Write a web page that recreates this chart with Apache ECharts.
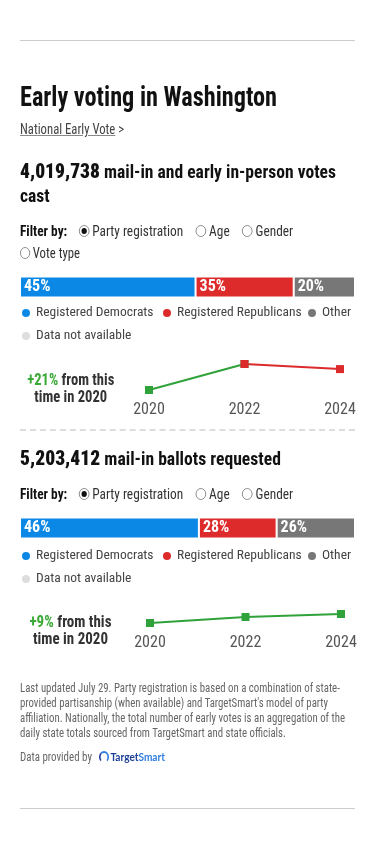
<!DOCTYPE html>
<html>
<head>
<meta charset="utf-8">
<script src="https://cdn.jsdelivr.net/npm/echarts@6/dist/echarts.min.js"></script>
<style>
  html, body { margin: 0; padding: 0; background: #fff; }
  body {
    width: 375px; height: 849px; position: relative; overflow: hidden;
    font-family: "Roboto Condensed", "Liberation Sans Narrow", "DejaVu Sans Condensed", "Roboto", sans-serif;
    color: #222;
  }
  #chart { position: absolute; left: 0; top: 0; width: 375px; height: 849px; }
  .t { position: absolute; left: 20px; white-space: nowrap; transform-origin: left center; }
  .rule { position: absolute; left: 20px; width: 335px; height: 0; border-top: 1px solid #ccc; }
  .dash { position: absolute; left: 20px; width: 335px; height: 0; border-top: 2px dashed #ddd; }
  .title { top: 82px; font-size: 27px; font-weight: bold; line-height: 30px; color: #111; }
  .link { top: 120px; font-size: 15px; line-height: 18px; color: #444; }
  .link u { text-decoration-color: #888; }
  .head { font-size: 19px; font-weight: bold; line-height: 24px; color: #111; }
  .head b { font-size: 21px; }
  .filter { font-size: 15px; line-height: 20px; color: #333; }
  .filter strong { color: #111; margin-right: 13px; }
  .radio { display: inline-block; width: 10px; height: 10px; border: 1px solid #888; border-radius: 50%;
    vertical-align: -1px; margin: 0 3px 0 0; position: relative; box-sizing: content-box; }
  .radio.on::after { content: ""; position: absolute; left: 2px; top: 2px; width: 6px; height: 6px; border-radius: 50%; background: #111; }
  .opt { margin-right: 14px; }
  .change { position: absolute; white-space: nowrap; text-align: center; font-size: 17px; font-weight: bold;
    line-height: 17px; color: #333; transform-origin: center center; }
  .change span { color: #3aa935; }
  .note { top: 680px; font-size: 13px; line-height: 15px; color: #666; }
  .src { top: 749px; font-size: 13px; line-height: 16px; color: #666; }
  .logo { font-family: "Lato", "Inter", sans-serif; font-weight: bold; font-size: 12px; margin-left: 5px; }
  .logo .a { color: #1d3f9a; }
  .logo .b { color: #2f7de1; }
  .logo i { display: inline-block; width: 8px; height: 8px; border: 2px solid #2f7de1; border-radius: 50%;
    vertical-align: -2px; margin-right: 2px; box-sizing: content-box; border-left-color: #1d3f9a; border-bottom-color: transparent; }
</style>
</head>
<body>
<div id="chart"></div>

<div class="rule" style="top:40px"></div>
<div class="t title" data-fit="257">Early voting in Washington</div>
<div class="t link" data-fit="104"><u>National Early Vote</u> &gt;</div>

<div class="t head" style="top:159px" data-fit="316"><b>4,019,738</b> mail-in and early in-person votes<br>cast</div>
<div class="t filter" style="top:221px" data-fit="273"><strong>Filter by:</strong><span class="opt"><span class="radio on"></span>Party registration</span><span class="opt"><span class="radio"></span>Age</span><span><span class="radio"></span>Gender</span></div>
<div class="t filter" style="top:243px" data-fit="60"><span class="radio"></span>Vote type</div>
<div class="change" style="top:371px" data-fit="87" data-center="71"><span>+21%</span> from this<br>time in 2020</div>
<div class="dash" style="top:429px"></div>

<div class="t head" style="top:446px" data-fit="261"><b>5,203,412</b> mail-in ballots requested</div>
<div class="t filter" style="top:484px" data-fit="273"><strong>Filter by:</strong><span class="opt"><span class="radio on"></span>Party registration</span><span class="opt"><span class="radio"></span>Age</span><span><span class="radio"></span>Gender</span></div>
<div class="change" style="top:613px" data-fit="82" data-center="70"><span>+9%</span> from this<br>time in 2020</div>

<div class="t note" data-fit="325">Last updated July 29. Party registration is based on a combination of state-<br>provided partisanship (when available) and TargetSmart's model of party<br>affiliation. Nationally, the total number of early votes is an aggregation of the<br>daily state totals sourced from TargetSmart and state officials.</div>
<div class="t src" data-fit="145">Data provided by <span class="logo"><i></i><span class="a">Target</span><span class="b">Smart</span></span></div>
<div class="rule" style="top:808px"></div>

<script>
const FONT = '"Roboto Condensed", "Liberation Sans Narrow", "DejaVu Sans Condensed", Roboto, sans-serif'

const years = ["2020", "2022", "2024"]
const partyNames = ["Registered Democrats", "Registered Republicans", "Other", "Data not available"]
const partyColors = ["#0b88e6", "#dd2a2b", "#777777", "#dddddd"]

// share bars: printed percentages and the segment widths as drawn (percent of bar)
const castLabels = ["45%", "35%", "20%"]
const castBarShare = [52.4, 29.3, 18.3]
const requestedLabels = ["46%", "28%", "26%"]
const requestedBarShare = [53.4, 23.2, 23.4]

// totals at this point of the year (estimated from the sparklines)
const castByYear = [3322100, 4190000, 4019738]
const requestedByYear = [4773800, 5060000, 5203412]

// the original typeface is narrower than anything installed, so squeeze text blocks to its widths
document.querySelectorAll("[data-fit]").forEach((el) => {
  const w = el.getBoundingClientRect().width
  const s = Number(el.dataset.fit) / w
  if (el.dataset.center) el.style.left = Number(el.dataset.center) - w / 2 + "px"
  el.style.transform = "scaleX(" + s.toFixed(3) + ")"
})

const chart = echarts.init(document.getElementById("chart"), null, { renderer: "canvas" })

const barSeries = (shares, labels, idx) =>
  partyNames.map((name, i) => ({
    name,
    type: "bar",
    stack: "share" + idx,
    xAxisIndex: idx,
    yAxisIndex: idx,
    barWidth: 21,
    data: i < shares.length ? [shares[i]] : [],
    itemStyle: { color: partyColors[i], borderColor: "#fff", borderWidth: 1 },
    label: {
      show: true,
      position: "insideLeft",
      distance: 4,
      formatter: () => labels[i],
      color: "#fff",
      fontWeight: "bold",
      fontSize: 16,
      fontFamily: FONT,
    },
    silent: true,
  }))

// one legend per entry so each marker sits where the original puts it
const legendAt = (name, left, top) => ({
  left,
  top,
  padding: 0,
  icon: "circle",
  itemWidth: 10,
  itemHeight: 10,
  selectedMode: false,
  data: [name],
  textStyle: { color: "#444", fontSize: 13.5, fontFamily: FONT },
})

const legendRows = (top) => [
  legendAt(partyNames[0], 20, top),
  legendAt(partyNames[1], 161, top),
  legendAt(partyNames[2], 306, top),
  legendAt(partyNames[3], 20, top + 23),
]

const yearAxis = (idx) => ({
  type: "category",
  gridIndex: idx,
  data: years,
  boundaryGap: false,
  axisLine: { show: false },
  axisTick: { show: false },
  axisLabel: { color: "#555", fontSize: 16, margin: 12, fontFamily: FONT },
})

const valueAxis = (idx) => ({
  type: "value",
  gridIndex: idx,
  min: "dataMin",
  max: "dataMax",
  show: false,
})

const lineStyle = (color) => ({
  type: "line",
  symbol: "rect",
  symbolSize: 8,
  lineStyle: { color, width: 2 },
  itemStyle: { color },
  silent: true,
})

const option = {
  backgroundColor: "transparent",
  animation: false,
  grid: [
    { left: 20, width: 335, top: 277, height: 20 },
    { left: 20, width: 335, top: 518, height: 20 },
    { left: 149, width: 191, top: 364, height: 26 },
    { left: 150, width: 191, top: 614, height: 9 },
  ],
  xAxis: [
    { type: "value", gridIndex: 0, min: 0, max: 100, show: false },
    { type: "value", gridIndex: 1, min: 0, max: 100, show: false },
    yearAxis(2),
    yearAxis(3),
  ],
  yAxis: [
    { type: "category", gridIndex: 0, data: ["share"], show: false },
    { type: "category", gridIndex: 1, data: ["share"], show: false },
    valueAxis(2),
    valueAxis(3),
  ],
  legend: [...legendRows(306), ...legendRows(549)],
  series: [
    ...barSeries(castBarShare, castLabels, 0),
    ...barSeries(requestedBarShare, requestedLabels, 1),
    // 2020 -> 2022 went up (green), 2022 -> 2024 went down (red)
    {
      ...lineStyle("#2fa33a"),
      xAxisIndex: 2,
      yAxisIndex: 2,
      data: [castByYear[0], castByYear[1], "-"],
    },
    {
      ...lineStyle("#dd2a2b"),
      xAxisIndex: 2,
      yAxisIndex: 2,
      data: ["-", castByYear[1], castByYear[2]],
    },
    {
      ...lineStyle("#2fa33a"),
      xAxisIndex: 3,
      yAxisIndex: 3,
      data: requestedByYear,
    },
  ],
}

chart.setOption(option)

window.addEventListener("resize", () => chart.resize())
</script>
</body>
</html>
